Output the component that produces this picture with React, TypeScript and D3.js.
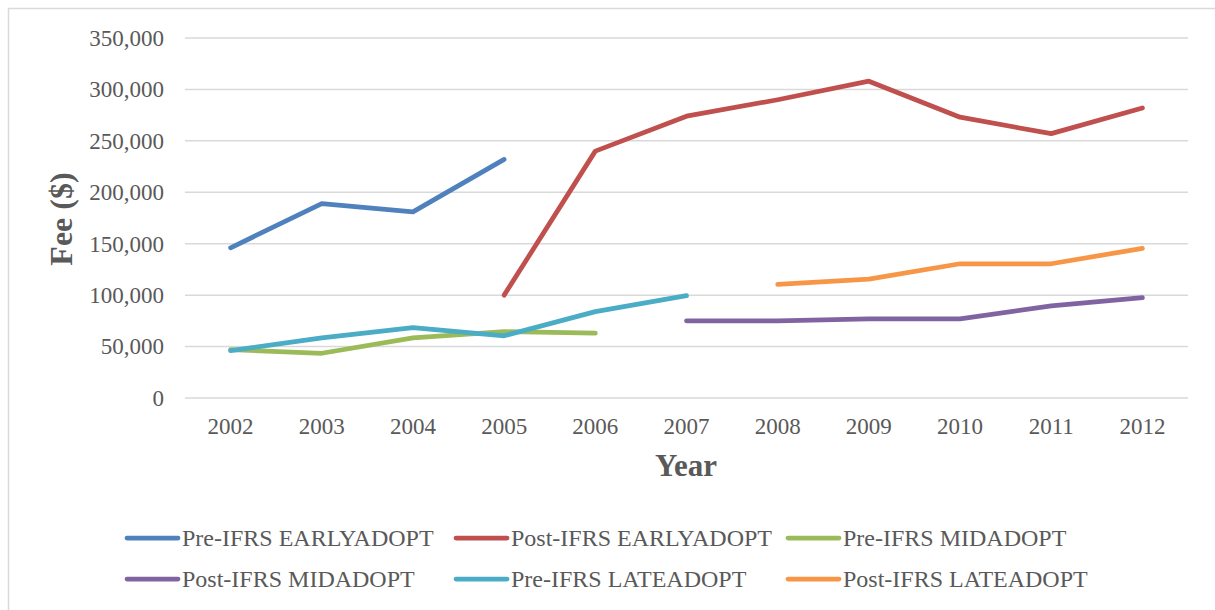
import React from "react";
import * as d3 from "d3";

const years = ["2002","2003","2004","2005","2006","2007","2008","2009","2010","2011","2012"];
const yTicks = [0, 50000, 100000, 150000, 200000, 250000, 300000, 350000];

const preEarly: (number | null)[] = [146000, 189000, 181000, 232000, null, null, null, null, null, null, null];
const postEarly: (number | null)[] = [null, null, null, 100000, 240000, 274000, 290000, 308000, 273000, 257000, 282000];
const preMid: (number | null)[] = [47000, 43500, 58500, 64500, 63000, null, null, null, null, null, null];
const postMid: (number | null)[] = [null, null, null, null, null, 75000, 75000, 77000, 77000, 89500, 97500];
const preLate: (number | null)[] = [46000, 58500, 68500, 60500, 84000, 99500, null, null, null, null, null];
const postLate: (number | null)[] = [null, null, null, null, null, null, 110500, 115500, 130500, 130500, 145500];

const seriesNames = ["Pre-IFRS EARLYADOPT","Post-IFRS EARLYADOPT","Pre-IFRS MIDADOPT","Post-IFRS MIDADOPT","Pre-IFRS LATEADOPT","Post-IFRS LATEADOPT"];
const seriesValues = [preEarly, postEarly, preMid, postMid, preLate, postLate];
const colors = ["#4F81BD","#C0504D","#9BBB59","#8064A2","#4BACC6","#F79646"];
const font = "Liberation Serif, Times New Roman, serif";

export default function App() {
  const W = 1215, H = 610;
  const x = d3.scalePoint<string>().domain(years).range([185, 1188]).padding(0.5);
  const y = d3.scaleLinear().domain([0, 350000]).range([398, 38]);
  const fmt = d3.format(",");
  const line = d3.line<number | null>()
    .defined(d => d !== null)
    .x((_, i) => x(years[i]) as number)
    .y(d => y(d as number));

  const legendPos = [
    { x: 124, y: 538 }, { x: 453, y: 538 }, { x: 785, y: 538 },
    { x: 124, y: 579 }, { x: 453, y: 579 }, { x: 785, y: 579 },
  ];

  return (
    <svg width={W} height={H} style={{ position: "absolute", left: 0, top: 0, background: "#fff" }}>
      <rect x={8.5} y={8.5} width={1215} height={610} fill="#fff" stroke="#d9d9d9" strokeWidth={1.5} />
      {yTicks.map(t => (
        <g key={t}>
          <line x1={185} x2={1188} y1={y(t)} y2={y(t)} stroke="#d9d9d9" strokeWidth={1.5} />
          <text x={164} y={y(t)} dy="0.34em" textAnchor="end" style={{ fontFamily: font }} fontSize={23} fill="#595959">{fmt(t)}</text>
        </g>
      ))}
      {years.map(yr => (
        <text key={yr} x={x(yr)} y={434} textAnchor="middle" style={{ fontFamily: font }} fontSize={23} fill="#595959">{yr}</text>
      ))}
      <text x={686} y={476} textAnchor="middle" style={{ fontFamily: font }} fontSize={31} fontWeight="bold" fill="#595959">Year</text>
      <text transform={`translate(72,219) rotate(-90)`} textAnchor="middle" style={{ fontFamily: font }} fontSize={32} fontWeight="bold" fill="#595959">Fee ($)</text>
      {seriesValues.map((vals, i) => (
        <path key={i} d={line(vals) || ""} fill="none" stroke={colors[i]} strokeWidth={4.75} strokeLinecap="round" strokeLinejoin="round" />
      ))}
      {seriesNames.map((n, i) => (
        <g key={n}>
          <line x1={legendPos[i].x + 3} x2={legendPos[i].x + 54} y1={legendPos[i].y} y2={legendPos[i].y} stroke={colors[i]} strokeWidth={4.75} strokeLinecap="round" />
          <text x={legendPos[i].x + 58} y={legendPos[i].y} dy="0.34em" style={{ fontFamily: font }} fontSize={24} fill="#595959">{n}</text>
        </g>
      ))}
    </svg>
  );
}
